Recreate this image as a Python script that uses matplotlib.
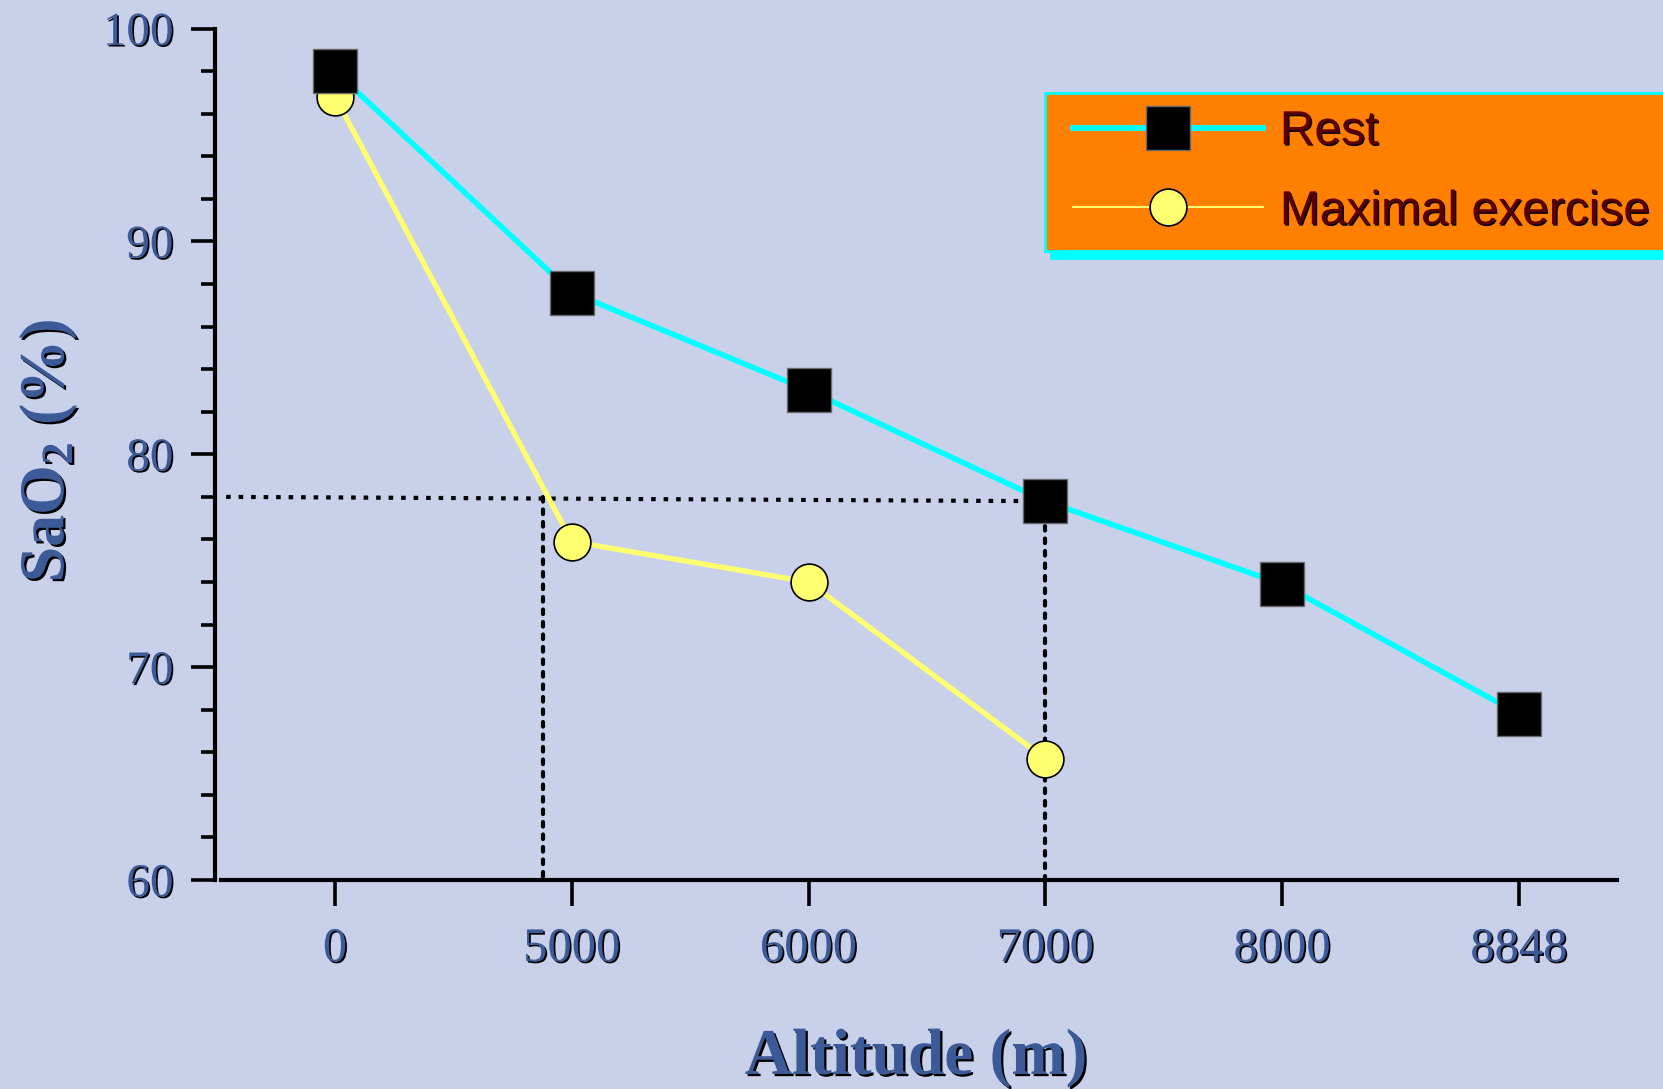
import matplotlib
matplotlib.use("Agg")
import matplotlib.pyplot as plt
import matplotlib.patheffects as pe
from matplotlib.lines import Line2D
from matplotlib.legend_handler import HandlerLine2D
from matplotlib.ticker import MultipleLocator

# ---- data ----
altitude_labels = ["0", "5000", "6000", "7000", "8000", "8848"]
rest_sao2 = [98.0, 87.6, 83.0, 77.8, 73.9, 67.8]
exercise_sao2 = [96.8, 75.9, 74.0, 65.7]
# dotted reference lines (x in category positions)
ref_h_x = [-0.46, 2.95]
ref_h_y = [78.0, 77.8]
ref_v1_x = 0.88
ref_v1_y = [78.0, 60.0]
ref_v2_x = 3.0
ref_v2_y = [77.8, 60.0]

BG = "#C9D1EA"
TXT_BLUE = "#3D5A98"
CYAN = "#00FFFF"
YELLOW = "#FFFF70"
ORANGE = "#FF7F00"
MAROON = "#5A0000"

plt.rcParams["mathtext.fontset"] = "custom"
plt.rcParams["mathtext.rm"] = "Liberation Serif:bold"
plt.rcParams["mathtext.default"] = "rm"

fig = plt.figure(figsize=(16.63, 10.89), dpi=100, facecolor=BG)
ax = fig.add_axes([215 / 1663, 209 / 1089, 1402 / 1663, 851.4 / 1089])
ax.set_facecolor(BG)

x_rest = list(range(len(rest_sao2)))
x_ex = list(range(len(exercise_sao2)))

# reference dotted lines
dot = (0, (1.1, 1.9))
ax.plot(ref_h_x, ref_h_y, color="black", lw=3.0, linestyle=dot,
        dash_capstyle="butt", zorder=2)
ax.plot([ref_v1_x, ref_v1_x], ref_v1_y, color="black", lw=3.0, linestyle=dot,
        dash_capstyle="round", zorder=2)
ax.plot([ref_v2_x, ref_v2_x], ref_v2_y, color="black", lw=3.0, linestyle=dot,
        dash_capstyle="round", zorder=2)

ax.plot(x_ex, exercise_sao2, color=YELLOW, lw=3.8, marker="o", markersize=26.5,
        markerfacecolor=YELLOW, markeredgecolor="black", markeredgewidth=1.2,
        zorder=3, label="Maximal exercise")
ax.plot(x_rest, rest_sao2, color=CYAN, lw=4.0, marker="s", markersize=32,
        markerfacecolor="black", markeredgecolor="#6a6a6a", markeredgewidth=1.0,
        zorder=4, label="Rest")

ax.set_xlim(-0.507, 5.414)
ax.set_ylim(60, 100)
ax.set_xticks(x_rest)
ax.set_xticklabels(altitude_labels)
ax.yaxis.set_major_locator(MultipleLocator(10))
ax.yaxis.set_minor_locator(MultipleLocator(2))

for s in ["top", "right"]:
    ax.spines[s].set_visible(False)
ax.spines["left"].set_linewidth(3)
ax.spines["bottom"].set_linewidth(3)
ax.spines["bottom"].set_bounds(-0.48, 5.414)

shadow_small = [pe.withSimplePatchShadow(offset=(1.2, -1.2), shadow_rgbFace="black", alpha=1)]
shadow_big = [pe.withSimplePatchShadow(offset=(1.6, -1.6), shadow_rgbFace="black", alpha=1)]

ax.tick_params(axis="y", which="major", direction="out", length=17, width=2.6,
               pad=13, labelsize=34, labelcolor=TXT_BLUE)
ax.tick_params(axis="y", which="minor", direction="out", length=10, width=2.6)
ax.tick_params(axis="x", which="major", direction="out", length=19, width=2.6,
               pad=15, labelsize=35, labelcolor=TXT_BLUE)
for lab in ax.get_xticklabels() + ax.get_yticklabels():
    lab.set_fontfamily("Liberation Serif")
    lab.set_path_effects(shadow_small)

ax.set_xlabel("Altitude (m)", fontsize=47, fontweight="bold",
              fontfamily="Liberation Serif", color=TXT_BLUE, path_effects=shadow_big)
ax.xaxis.set_label_coords(0.5, -0.209)
ax.xaxis.label.set_verticalalignment("center")

ax.set_ylabel("SaO$_2$ (%)", fontsize=46, fontweight="bold",
              fontfamily="Liberation Serif", color=TXT_BLUE, path_effects=shadow_big)
ax.yaxis.set_label_coords(-0.119, 0.504)
ax.yaxis.label.set_verticalalignment("center")

# legend
handles, labels = ax.get_legend_handles_labels()
order = [1, 0]
leg = ax.legend([handles[i] for i in order], [labels[i] for i in order],
                loc="upper left", mode="expand",
                bbox_to_anchor=(1045 / 1663, 0.0, 660 / 1663, 1 - 93 / 1089),
                bbox_transform=fig.transFigure, borderaxespad=0,
                prop={"family": "Liberation Sans", "size": 34.5},
                handlelength=4.21, handletextpad=0.35, borderpad=0.34,
                labelspacing=0.73, fancybox=False, framealpha=1,
                facecolor=ORANGE, edgecolor=CYAN,
                shadow={"color": CYAN, "alpha": 1, "ox": 4, "oy": -5},
                handler_map={Line2D: HandlerLine2D(xpad=0.24)})
leg.get_frame().set_linewidth(2)
for t in leg.get_texts():
    t.set_color(MAROON)
    t.set_path_effects([pe.withSimplePatchShadow(offset=(1.0, -1.0), shadow_rgbFace="black", alpha=1)])
leg_lines = leg.get_lines()
leg_lines[0].set_linewidth(4.3)
leg_lines[1].set_linewidth(1.5)

fig.savefig("out.png", dpi=100, facecolor=BG)
